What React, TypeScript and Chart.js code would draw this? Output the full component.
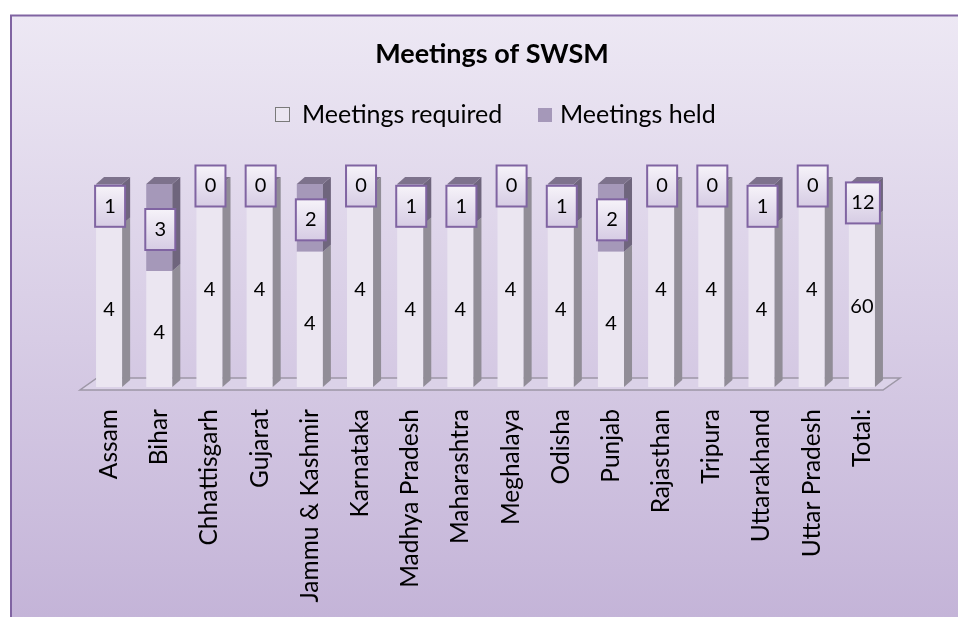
import React, { useEffect, useRef } from "react";
import { Chart, registerables } from "chart.js";

Chart.register(...registerables);

const categories = [
  "Assam",
  "Bihar",
  "Chhattisgarh",
  "Gujarat",
  "Jammu & Kashmir",
  "Karnataka",
  "Madhya Pradesh",
  "Maharashtra",
  "Meghalaya",
  "Odisha",
  "Punjab",
  "Rajasthan",
  "Tripura",
  "Uttarakhand",
  "Uttar Pradesh",
  "Total:",
];
const meetingsRequired = [4, 4, 4, 4, 4, 4, 4, 4, 4, 4, 4, 4, 4, 4, 4, 60];
const meetingsHeld = [1, 3, 0, 0, 2, 0, 1, 1, 0, 1, 2, 0, 0, 1, 0, 12];
const chartTitle = "Meetings of SWSM";
const seriesNames = ["Meetings required", "Meetings held"];

const FONT = "Lato, 'Open Sans', sans-serif";
const frontColors = ["#ebe6f1", "#a598b9"];
const sideColors = ["#918d97", "#6f657d"];
const topColors = ["#7f7a88", "#7d728c"];
const DX = 8;
const DY = -7;

// 100% stacked shares derived from the raw series
const totals = meetingsRequired.map((r, i) => r + meetingsHeld[i]);
const requiredShare = meetingsRequired.map((r, i) => (r / totals[i]) * 100);
const heldShare = meetingsHeld.map((h, i) => (h / totals[i]) * 100);
const rawValues = [meetingsRequired, meetingsHeld];

const backgroundPlugin = {
  id: "bg",
  beforeDraw(chart: any) {
    const { ctx, width, height } = chart;
    ctx.save();
    ctx.fillStyle = "#ffffff";
    ctx.fillRect(0, 0, width, height);
    const g = ctx.createLinearGradient(0, 15, 0, height);
    g.addColorStop(0, "#ede8f4");
    g.addColorStop(1, "#c4b4d8");
    ctx.fillStyle = g;
    ctx.fillRect(11, 15, width - 11, height - 15);
    ctx.strokeStyle = "#8064a2";
    ctx.lineWidth = 2;
    ctx.beginPath();
    ctx.moveTo(11, height);
    ctx.lineTo(11, 15.5);
    ctx.lineTo(width, 15.5);
    ctx.stroke();

    // title
    ctx.fillStyle = "#000";
    ctx.font = `bold 27px ${FONT}`;
    ctx.textAlign = "center";
    ctx.textBaseline = "middle";
    ctx.fillText(chartTitle, 492, 54);

    // legend
    ctx.font = `25px ${FONT}`;
    ctx.textAlign = "left";
    ctx.fillStyle = frontColors[0];
    ctx.fillRect(275.5, 107.5, 14, 14);
    ctx.strokeStyle = "#7a7a7a";
    ctx.lineWidth = 1;
    ctx.strokeRect(275.5, 107.5, 14, 14);
    ctx.fillStyle = "#000";
    ctx.fillText(seriesNames[0], 302, 115);
    ctx.fillStyle = frontColors[1];
    ctx.fillRect(538, 108, 14, 14);
    ctx.fillStyle = "#000";
    ctx.fillText(seriesNames[1], 560, 115);
    ctx.restore();
  },
  beforeDatasetsDraw(chart: any) {
    const { ctx, chartArea } = chart;
    const y0 = chartArea.bottom + 3;
    const y1 = y0 - 12;
    const l = chartArea.left - 4;
    const r = chartArea.right - 4;
    ctx.save();
    ctx.beginPath();
    ctx.moveTo(l, y0);
    ctx.lineTo(r, y0);
    ctx.lineTo(r + 17, y1);
    ctx.lineTo(l + 17, y1);
    ctx.closePath();
    ctx.fillStyle = "rgba(255,255,255,0.18)";
    ctx.fill();
    ctx.strokeStyle = "#9d97a6";
    ctx.lineWidth = 1.5;
    ctx.stroke();
    ctx.restore();
  },
};

const facesPlugin = {
  id: "faces",
  afterDatasetsDraw(chart: any) {
    const { ctx } = chart;
    const n = categories.length;
    ctx.save();
    for (let i = 0; i < n; i++) {
      let topDs = -1;
      for (let d = 0; d < chart.data.datasets.length; d++) {
        const el = chart.getDatasetMeta(d).data[i];
        const top = Math.min(el.y, el.base);
        const bottom = Math.max(el.y, el.base);
        if (bottom - top < 0.5) continue;
        topDs = d;
        const right = el.x + el.width / 2;
        ctx.fillStyle = sideColors[d];
        ctx.beginPath();
        ctx.moveTo(right, bottom);
        ctx.lineTo(right + DX, bottom + DY);
        ctx.lineTo(right + DX, top + DY);
        ctx.lineTo(right, top);
        ctx.closePath();
        ctx.fill();
      }
      if (topDs >= 0) {
        const el = chart.getDatasetMeta(topDs).data[i];
        const top = Math.min(el.y, el.base);
        const left = el.x - el.width / 2;
        const right = el.x + el.width / 2;
        ctx.fillStyle = topColors[topDs];
        ctx.beginPath();
        ctx.moveTo(left, top);
        ctx.lineTo(left + DX, top + DY);
        ctx.lineTo(right + DX, top + DY);
        ctx.lineTo(right, top);
        ctx.closePath();
        ctx.fill();
      }
    }
    ctx.restore();
  },
};

const labelsPlugin = {
  id: "valueLabels",
  afterDatasetsDraw(chart: any) {
    const { ctx } = chart;
    ctx.save();
    ctx.font = `20px ${FONT}`;
    ctx.textAlign = "center";
    ctx.textBaseline = "middle";
    chart.data.datasets.forEach((ds: any, d: number) => {
      const meta = chart.getDatasetMeta(d);
      meta.data.forEach((el: any, i: number) => {
        const cx = el.x;
        const cy = (el.y + el.base) / 2;
        const txt = String(rawValues[d][i]);
        if (d === 1) {
          const w = txt.length > 1 ? 34 : 30;
          const h = 41;
          const bx = cx + 1 - w / 2;
          const by = cy + 2 - h / 2;
          const g = ctx.createLinearGradient(0, by, 0, by + h);
          g.addColorStop(0, "#f6f3f9");
          g.addColorStop(1, "#d6cce4");
          ctx.fillStyle = g;
          ctx.fillRect(bx, by, w, h);
          ctx.strokeStyle = "#8064a2";
          ctx.lineWidth = 2;
          ctx.strokeRect(bx, by, w, h);
          ctx.fillStyle = "#000";
          ctx.fillText(txt, cx + 1, cy + 2);
        } else {
          ctx.fillStyle = "#000";
          ctx.fillText(txt, cx, cy + 4);
        }
      });
    });
    ctx.restore();
  },
};

export default function App() {
  const ref = useRef<HTMLCanvasElement | null>(null);
  useEffect(() => {
    if (!ref.current) return;
    const chart = new Chart(ref.current, {
      type: "bar",
      data: {
        labels: categories,
        datasets: [
          {
            label: seriesNames[0],
            data: requiredShare,
            backgroundColor: frontColors[0],
            borderWidth: 0,
          },
          {
            label: seriesNames[1],
            data: heldShare,
            backgroundColor: frontColors[1],
            borderWidth: 0,
          },
        ],
      },
      options: {
        responsive: false,
        animation: false,
        devicePixelRatio: 1,
        layout: { padding: { left: 84, right: 71, top: 184, bottom: 0 } },
        datasets: { bar: { barPercentage: 0.52, categoryPercentage: 1 } },
        plugins: {
          legend: { display: false },
          title: { display: false },
          tooltip: { enabled: false },
        },
        scales: {
          x: {
            stacked: true,
            grid: { display: false },
            border: { display: false },
            ticks: {
              minRotation: 90,
              maxRotation: 90,
              autoSkip: false,
              padding: 14,
              color: "#000",
              font: { family: FONT, size: 24.5 },
            },
            afterFit(scale: any) {
              scale.height = 230;
            },
          },
          y: {
            stacked: true,
            display: false,
            min: 0,
            max: 100,
          },
        },
      },
      plugins: [backgroundPlugin, facesPlugin, labelsPlugin],
    } as any);
    return () => chart.destroy();
  }, []);
  return (
    <div style={{ position: "absolute", left: 0, top: 0, width: 958, height: 617 }}>
      <canvas ref={ref} width={958} height={617} />
    </div>
  );
}
